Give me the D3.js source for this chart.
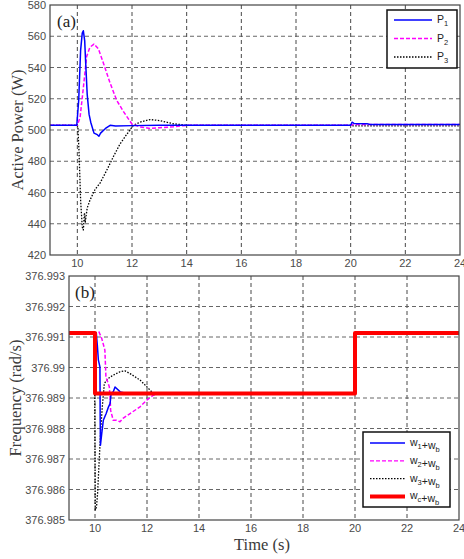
<!DOCTYPE html>
<html>
<head>
<meta charset="utf-8">
<script src="https://cdn.jsdelivr.net/npm/d3@7"></script>
<style>
  body { margin: 0; background: #fff; }
  .tick-label { font-family: "Liberation Sans", Arial, sans-serif; font-size: 11px; fill: #4a4a4a; }
  .axis-title { font-family: "Liberation Serif", "Times New Roman", serif; font-size: 16.5px; fill: #3a3a3a; }
  .panel-tag { font-family: "Liberation Serif", "Times New Roman", serif; font-size: 17px; fill: #222; }
  .legend-text { font-family: "Liberation Sans", Arial, sans-serif; font-size: 10.5px; fill: #222; }
</style>
</head>
<body>
<div id="chart"></div>
<script>
// ---------- data ----------
// top panel (a): active power [time (s), power (W)]
var p1Points = [[9,503],[9.98,503],[10.05,519],[10.12,551],[10.18,562],[10.22,563.5],[10.27,557],[10.3,545],[10.36,523],[10.43,510],[10.49,505],[10.61,498],[10.73,497],[10.79,496],[10.85,498],[11.03,501],[11.2,503],[11.4,502.5],[12,502.8],[13,503],[20,503],[20.05,505],[20.12,504.2],[20.6,504],[20.7,503.6],[24,503.6]];
var p2Points = [[9,503],[10,503],[10.1,508],[10.22,527],[10.34,547],[10.46,553],[10.61,555],[10.77,552],[10.95,543],[11.2,530],[11.44,519],[11.68,512],[11.99,504],[12.29,502],[12.66,501],[13.02,501.5],[13.51,502],[14,503],[20,503],[20.1,503.6],[24,503.6]];
var p3Points = [[9,503],[10,503],[10.02,502],[10.06,487],[10.12,455],[10.18,438],[10.22,436],[10.26,447],[10.29,441],[10.36,450],[10.46,455],[10.65,462],[10.83,466],[11.07,474],[11.32,483],[11.56,491],[11.8,497],[12.05,503],[12.29,505],[12.66,506.7],[13.02,506],[13.51,504],[14,503],[20,503],[20.1,502.6],[24,502.6]];

// bottom panel (b): frequency [time (s), rad/s]
var w1Points = [[9,376.99113],[10.05,376.99113],[10.09,376.99073],[10.13,376.99024],[10.19,376.99002],[10.2,376.98827],[10.21,376.98745],[10.26,376.98784],[10.32,376.98827],[10.43,376.98849],[10.52,376.98871],[10.58,376.98882],[10.62,376.98915],[10.7,376.9892],[10.77,376.98936],[10.97,376.9892],[11.23,376.98915],[20,376.98915],[20,376.99113],[24,376.99113]];
var w2Points = [[9,376.99113],[10.04,376.99113],[10.15,376.99117],[10.26,376.99095],[10.38,376.99057],[10.42,376.98969],[10.55,376.98937],[10.58,376.98904],[10.6,376.9886],[10.7,376.98827],[10.83,376.98827],[10.96,376.98822],[11.09,376.98834],[11.35,376.98849],[11.73,376.98871],[11.99,376.98893],[12.24,376.98909],[12.5,376.98915],[20,376.98915],[20,376.99113],[24,376.99113]];
var w3Points = [[9,376.99113],[9.98,376.99113],[9.99,376.9891],[10.0,376.9872],[10.01,376.98533],[10.06,376.98544],[10.1,376.98588],[10.15,376.98675],[10.22,376.98795],[10.28,376.98871],[10.36,376.98948],[10.51,376.98964],[10.7,376.98975],[10.96,376.98986],[11.15,376.98989],[11.35,376.9898],[11.73,376.98959],[11.99,376.98937],[12.24,376.98915],[13.7,376.98912],[20,376.98915],[20,376.99113],[24,376.99113]];
var wcPoints = [[9,376.99113],[10,376.99113],[10,376.98915],[20,376.98915],[20,376.99113],[24,376.99113]];

// ticks
var timeTicks = [10, 12, 14, 16, 18, 20, 22, 24];
var powerTicks = [420, 440, 460, 480, 500, 520, 540, 560, 580];
var freqTicks = [376.985, 376.986, 376.987, 376.988, 376.989, 376.99, 376.991, 376.992, 376.993];
var freqTickLabels = ["376.985", "376.986", "376.987", "376.988", "376.989", "376.99", "376.991", "376.992", "376.993"];

// ---------- layout ----------
var width = 464, height = 559;

var svg = d3.select("#chart")
  .append("svg")
  .attr("width", width)
  .attr("height", height);

svg.append("rect").attr("width", width).attr("height", height).attr("fill", "#fff");

// draws one boxed panel with grid, ticks and labels, returns scales + group
function drawPanel(opts) {
  var x = d3.scaleLinear().domain([9, 24]).range([opts.left, opts.right]);
  var y = d3.scaleLinear().domain(opts.yDomain).range([opts.bottom, opts.top]);

  var g = svg.append("g");

  // clip so lines stay inside the box
  g.append("clipPath").attr("id", opts.id + "-clip")
    .append("rect")
    .attr("x", opts.left).attr("y", opts.top)
    .attr("width", opts.right - opts.left).attr("height", opts.bottom - opts.top);

  // grid (dashed)
  g.selectAll(".vgrid")
    .data(timeTicks.filter(function (d) { return d < 24; }))
    .enter().append("line")
    .attr("x1", function (d) { return x(d); }).attr("x2", function (d) { return x(d); })
    .attr("y1", opts.top).attr("y2", opts.bottom)
    .attr("stroke", "#333").attr("stroke-width", 0.9).attr("stroke-dasharray", "4,3");

  g.selectAll(".hgrid")
    .data(opts.yTicks.slice(1, -1))
    .enter().append("line")
    .attr("x1", opts.left).attr("x2", opts.right)
    .attr("y1", function (d) { return y(d); }).attr("y2", function (d) { return y(d); })
    .attr("stroke", "#555").attr("stroke-width", 0.9).attr("stroke-dasharray", "4,3");

  // x tick labels
  g.selectAll(".xlab")
    .data(timeTicks)
    .enter().append("text")
    .attr("class", "tick-label")
    .attr("x", function (d) { return x(d); })
    .attr("y", opts.bottom + 12)
    .attr("text-anchor", "middle")
    .text(function (d) { return d; });

  // y tick labels
  g.selectAll(".ylab")
    .data(opts.yTicks)
    .enter().append("text")
    .attr("class", "tick-label")
    .attr("x", opts.left - 4)
    .attr("y", function (d) { return y(d) + 4; })
    .attr("text-anchor", "end")
    .text(function (d, i) { return opts.yLabels ? opts.yLabels[i] : d; });

  return { x: x, y: y, g: g, clip: "url(#" + opts.id + "-clip)" };
}

function frame(opts) {
  svg.append("rect")
    .attr("x", opts.left).attr("y", opts.top)
    .attr("width", opts.right - opts.left).attr("height", opts.bottom - opts.top)
    .attr("fill", "none").attr("stroke", "#444").attr("stroke-width", 1.2);
}

function drawLine(panel, pts, color, widthPx, dash) {
  var line = d3.line()
    .x(function (d) { return panel.x(d[0]); })
    .y(function (d) { return panel.y(d[1]); });
  panel.g.append("path")
    .datum(pts)
    .attr("clip-path", panel.clip)
    .attr("d", line)
    .attr("fill", "none")
    .attr("stroke", color)
    .attr("stroke-width", widthPx)
    .attr("stroke-linejoin", "round")
    .attr("stroke-dasharray", dash);
}

// legend with subscripts
function drawLegend(box, items) {
  svg.append("rect")
    .attr("x", box.x).attr("y", box.y).attr("width", box.w).attr("height", box.h)
    .attr("fill", "#fff").attr("stroke", "#111").attr("stroke-width", 1.5);
  items.forEach(function (it, i) {
    var yy = box.y + box.first + i * box.step;
    svg.append("line")
      .attr("x1", box.x + 7).attr("x2", box.x + 7 + box.lineLen)
      .attr("y1", yy).attr("y2", yy)
      .attr("stroke", it.color).attr("stroke-width", it.width)
      .attr("stroke-dasharray", it.dash);
    var t = svg.append("text").attr("class", "legend-text")
      .attr("x", box.x + 12 + box.lineLen).attr("y", yy + 3);
    it.parts.forEach(function (p) {
      if (p.sub) {
        t.append("tspan").attr("font-size", "7.5px").attr("dy", 3).text(p.sub);
        t.append("tspan").attr("dy", -3).text("");
      } else {
        t.append("tspan").text(p.txt);
      }
    });
  });
}

// ---------- panel (a) ----------
var topOpts = { id: "pa", left: 50, right: 460, top: 5, bottom: 255,
  yDomain: [420, 580], yTicks: powerTicks };
var pa = drawPanel(topOpts);
drawLine(pa, p3Points, "#000", 1.3, "1.5,1.5");
drawLine(pa, p2Points, "#ff00ff", 1.5, "4,2");
drawLine(pa, p1Points, "#0000ff", 1.5, null);
frame(topOpts);

svg.append("text").attr("class", "panel-tag")
  .attr("x", 57).attr("y", 27).text("(a)");

svg.append("text").attr("class", "axis-title")
  .attr("transform", "translate(23,130) rotate(-90)")
  .attr("text-anchor", "middle")
  .text("Active Power (W)");

drawLegend({ x: 387, y: 10, w: 70, h: 58, first: 10, step: 18.5, lineLen: 38 }, [
  { color: "#0000ff", width: 1.5, dash: null, parts: [{ txt: "P" }, { sub: "1" }] },
  { color: "#ff00ff", width: 1.5, dash: "4,2", parts: [{ txt: "P" }, { sub: "2" }] },
  { color: "#000", width: 1.3, dash: "1.5,1.5", parts: [{ txt: "P" }, { sub: "3" }] }
]);

// ---------- panel (b) ----------
var botOpts = { id: "pb", left: 69, right: 459, top: 276, bottom: 520,
  yDomain: [376.985, 376.993], yTicks: freqTicks, yLabels: freqTickLabels };
var pb = drawPanel(botOpts);
drawLine(pb, w3Points, "#000", 1.3, "1.5,1.5");
drawLine(pb, w2Points, "#ff00ff", 1.5, "4,2");
drawLine(pb, w1Points, "#0000ff", 1.5, null);
drawLine(pb, wcPoints, "#ff0000", 4, null);
frame(botOpts);

svg.append("text").attr("class", "panel-tag")
  .attr("x", 75).attr("y", 298).text("(b)");

svg.append("text").attr("class", "axis-title")
  .attr("transform", "translate(21,398) rotate(-90)")
  .attr("text-anchor", "middle")
  .text("Frequency (rad/s)");

svg.append("text").attr("class", "axis-title")
  .attr("x", 262).attr("y", 550)
  .attr("text-anchor", "middle")
  .text("Time (s)");

drawLegend({ x: 363, y: 432, w: 87, h: 75, first: 11, step: 17.8, lineLen: 35 }, [
  { color: "#0000ff", width: 1.3, dash: null, parts: [{ txt: "w" }, { sub: "1" }, { txt: "+w" }, { sub: "b" }] },
  { color: "#ff00ff", width: 1.3, dash: "4,2", parts: [{ txt: "w" }, { sub: "2" }, { txt: "+w" }, { sub: "b" }] },
  { color: "#000", width: 1.3, dash: "1.5,1.5", parts: [{ txt: "w" }, { sub: "3" }, { txt: "+w" }, { sub: "b" }] },
  { color: "#ff0000", width: 4, dash: null, parts: [{ txt: "w" }, { sub: "c" }, { txt: "+w" }, { sub: "b" }] }
]);
</script>
</body>
</html>
